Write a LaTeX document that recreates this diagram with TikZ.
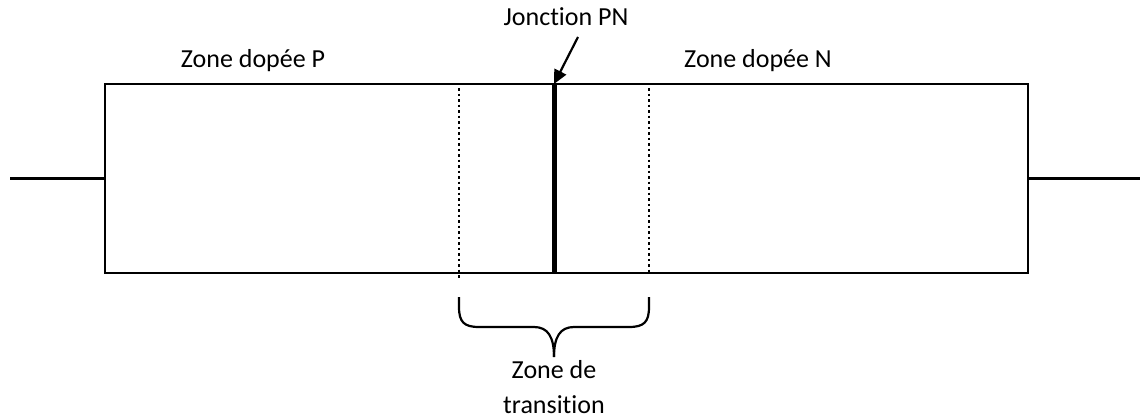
\documentclass[tikz,border=0pt]{standalone}
\usepackage{fontspec}
\setmainfont{Carlito}[Ligatures=NoCommon]
\usetikzlibrary{arrows.meta}
\begin{document}
\begin{tikzpicture}[x=1pt,y=-1pt,
  lbl/.style={font=\fontsize{26}{30}\selectfont, inner sep=0pt, anchor=center},
  wire/.style={line width=2.2pt},
  sepline/.style={dash pattern=on 2.5pt off 3pt, line width=2.5pt},
]
\useasboundingbox (0,0) rectangle (1140,420);
% body
\node[draw, line width=2.2pt, minimum width=923pt, minimum height=189pt, inner sep=0pt] (body) at (566.5,178.5) {};
\coordinate (lend) at (10,178.5);
\coordinate (rend) at (1140,178.5);
\draw[wire] (lend) -- (body.west);
\draw[wire] (body.east) -- (rend);
% junction
\coordinate (jt) at (554,84);
\coordinate (jb) at (554,273);
\draw[line width=5pt] (jt) -- (jb);
% transition zone borders
\coordinate (dlt) at (459,88);
\coordinate (dlb) at (459,279);
\coordinate (drt) at (649,88);
\coordinate (drb) at (649,274);
\draw[sepline] (dlt) -- (dlb);
\draw[sepline] (drt) -- (drb);
% labels
\node[lbl] (zp) at (253,61) {Zone dopée P};
\node[lbl] (zn) at (758,61) {Zone dopée N};
\node[lbl] (jpn) at (566,17) {Jonction PN};
\coordinate (astart) at (578,37);
\draw[line width=2.2pt, -{Triangle[length=14pt,width=13pt]}] (astart) -- (jt);
% brace
\coordinate (bl) at (459,297);
\coordinate (br) at (649,297);
\coordinate (btip) at (554,357);
\draw[line width=2.2pt] (bl) -- (459,307) .. controls (459,322) and (464,327) .. (479,327)
  -- (534,327) .. controls (548,327) and (554,337) .. (btip);
\draw[line width=2.2pt] (br) -- (649,307) .. controls (649,322) and (644,327) .. (629,327)
  -- (574,327) .. controls (560,327) and (554,337) .. (btip);
\node[lbl] (zt1) at (554,370) {Zone de};
\node[lbl] (zt2) at (554,405) {transition};
\end{tikzpicture}
\end{document}
